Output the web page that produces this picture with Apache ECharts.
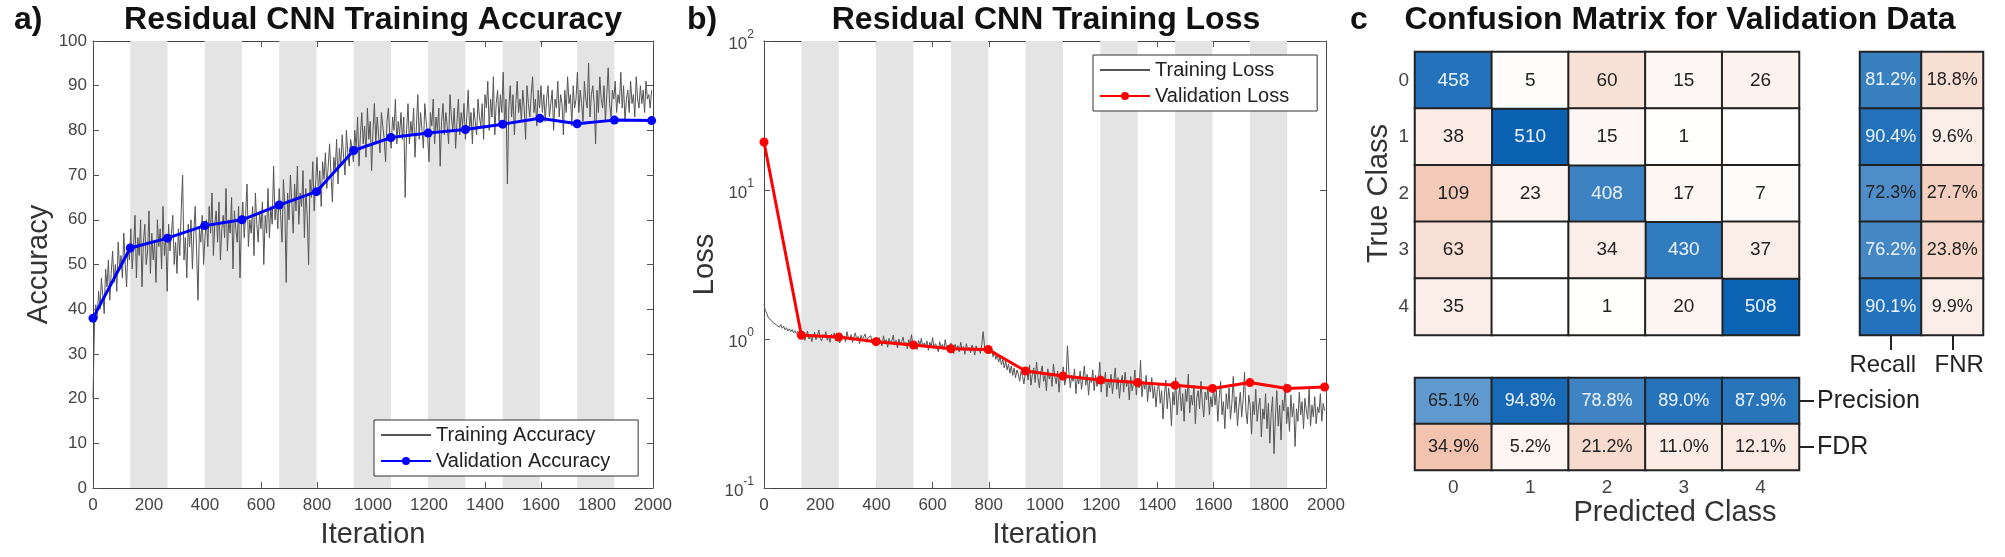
<!DOCTYPE html>
<html><head><meta charset="utf-8">
<script src="https://cdn.jsdelivr.net/npm/echarts@6/dist/echarts.min.js"></script>
<style>html,body{margin:0;padding:0;background:#fff}#c{width:2005px;height:557px}</style>
</head><body><div id="c"></div>
<script>
// ---------- data ----------
const valIter = [0,133,266,399,532,665,798,931,1064,1197,1330,1463,1596,1729,1862,1995];
const valAcc = [38,53.7,55.9,58.7,60.0,63.3,66.3,75.5,78.4,79.4,80.2,81.4,82.7,81.5,82.3,82.2];
const valLoss = [21,1.06,1.03,0.96,0.91,0.86,0.85,0.61,0.565,0.53,0.51,0.49,0.466,0.51,0.466,0.476];
const trainStep = 5; // logging interval (iterations)
const trainAcc = [
20,36,41,38,44,40,47,43,39,49,45,51,42,48,53,46,50,44,55,49,52,47,57,50,45,54,51,
58,49,54,61,47,56,52,60,45,55,
59,50,53,62,48,57,51,55,46,60,
54,58,49,63,52,56,44,59,53,57,
61,50,55,48,58,52,62,70,51,56,
47,59,54,60,49,57,63,53,42,58,
55,61,50,56,
60,54,63,57,66,52,59,62,55,64,
51,58,61,56,67,53,60,57,65,49,
62,58,55,63,47,59,64,56,61,68,
54,60,57,63,52,66,59,55,62,58,
64,50,61,57,67,56,63,59,72,60,
64,58,67,61,55,69,63,46,66,60,
70,64,57,68,62,72,59,66,63,71,
56,67,61,50,69,65,73,62,68,74,
66,71,63,73,69,75,67,72,77,70,
64,74,71,78,68,76,72,79,74,70,
80,75,72,78,76,73,
80,76,83,72,79,84,77,81,74,85,
78,82,71,80,86,77,83,79,75,84,
81,78,73,82,85,79,76,83,80,87,
77,82,79,84,
78,83,65,80,86,77,82,79,85,74,
81,88,78,84,80,76,86,82,79,73,
84,81,87,77,83,80,85,72,82,86,
79,84,81,77,88,83,80,85,76,82,
87,79,84,81,86,78,83,89,80,84,
77,85,82,79,87,83,81,86,78,88,
85,91,80,87,83,92,79,86,89,82,
88,84,93,81,87,68,85,90,83,88,
79,86,91,84,87,82,89,85,78,90,
86,83,88,92,84,87,81,89,85,90,
84,88,82,87,90,83,86,89,80,87,
85,91,83,88,86,79,89,84,92,86,
88,81,90,85,87,93,84,89,86,82,
91,87,85,95,83,88,90,86,77,89,
84,92,87,85,90,82,88,94,86,83,
89,87,91,84,88,86,93,85,90,82,
87,89,84,91,86,88,83,92,87,85,
90,86,89,84,91,87,88,85,89];
const trainLoss = [
1.7,1.55,1.48,1.4,1.44,1.33,1.37,1.28,1.31,1.24,1.27,1.2,1.25,1.18,1.22,1.15,1.19,1.13,1.17,1.12,1.16,1.1,1.14,1.09,1.13,1.08,1.11,
1.02,1.1,0.98,1.06,1.13,1.0,1.08,0.96,1.04,1.11,
0.99,1.05,1.15,1.01,0.97,1.07,1.03,1.12,0.98,1.04,
0.95,1.08,1.01,1.1,0.97,1.03,1.06,0.94,1.09,1.0,
1.05,0.96,1.12,1.02,0.98,1.07,0.95,1.03,1.1,0.99,
1.04,0.93,1.06,1.0,0.97,1.08,0.95,1.02,0.99,1.05,
0.94,1.01,0.97,1.03,
0.92,1.02,0.96,0.9,1.05,0.95,0.99,0.88,1.01,0.94,
0.97,1.06,0.91,0.98,0.87,1.0,0.93,0.96,1.03,0.9,
0.95,0.86,0.99,0.92,1.07,0.89,0.96,0.93,0.85,0.98,
0.91,1.01,0.88,0.94,0.9,0.97,0.84,0.95,0.89,1.02,
0.87,0.93,0.9,0.82,0.96,0.88,0.92,0.85,0.99,0.86,
0.91,0.83,0.94,0.88,0.8,0.92,0.86,0.9,0.82,0.95,
0.85,0.89,0.79,0.93,0.84,0.88,0.81,0.91,0.86,0.78,
0.9,0.83,0.87,0.8,0.92,1.12,0.88,0.82,0.86,0.84,
0.8,0.86,0.76,0.82,0.73,0.79,0.7,0.76,0.67,0.73,
0.64,0.71,0.62,0.68,0.59,0.66,0.57,0.64,0.55,0.62,
0.58,0.52,0.61,0.56,0.5,0.59,
0.62,0.53,0.67,0.49,0.58,0.64,0.51,0.7,0.55,0.47,
0.6,0.66,0.52,0.57,0.45,0.63,0.54,0.59,0.48,0.68,
0.56,0.5,0.61,0.44,0.58,0.53,0.65,0.49,0.55,0.9,
0.6,0.47,0.57,0.52,0.63,0.43,0.56,0.5,0.61,0.46,
0.54,0.66,0.49,0.58,0.42,0.55,0.51,0.62,0.45,0.57,
0.48,0.53,0.7,0.44,0.56,0.5,0.6,0.41,0.54,0.47,
0.58,0.43,0.52,0.64,0.46,0.55,0.4,0.51,0.57,0.44,
0.6,0.48,0.53,0.39,0.56,0.45,0.5,0.62,0.42,0.54,
0.47,0.72,0.41,0.52,0.46,0.57,0.38,0.5,0.44,0.55,
0.4,0.48,0.35,0.46,
0.5,0.37,0.45,0.29,0.42,0.53,0.34,0.47,0.39,0.26,
0.44,0.36,0.55,0.31,0.41,0.48,0.33,0.43,0.28,0.46,
0.38,0.58,0.32,0.42,0.36,0.49,0.27,0.4,0.45,0.34,
0.52,0.37,0.3,0.44,0.39,0.47,0.31,0.41,0.35,0.48,
0.36,0.45,0.28,0.4,0.52,0.31,0.38,0.25,0.43,0.34,
0.47,0.29,0.37,0.56,0.32,0.41,0.26,0.35,0.44,0.3,
0.39,0.6,0.33,0.27,0.42,0.36,0.23,0.38,0.31,0.46,
0.28,0.35,0.4,0.22,0.34,0.29,0.43,0.25,0.37,0.2,
0.32,0.41,0.17,0.3,0.45,0.26,0.36,0.21,0.39,0.33,
0.5,0.27,0.35,0.24,0.42,0.3,0.37,0.19,0.34,0.28,
0.44,0.31,0.38,0.25,0.4,0.33,0.29,0.47,0.26,0.36,
0.3,0.41,0.27,0.35,0.32,0.43,0.28,0.37,0.33];
const bandEpochs = [[133,266],[399,532],[665,798],[931,1064],[1197,1330],[1463,1596],[1729,1862]];
const classes = ['0','1','2','3','4'];
const confusion = [
  [458,5,60,15,26],
  [38,510,15,1,0],
  [109,23,408,17,7],
  [63,0,34,430,37],
  [35,0,1,20,508]
];
const recall = [81.2,90.4,72.3,76.2,90.1];
const fnr = [18.8,9.6,27.7,23.8,9.9];
const precision = [65.1,94.8,78.8,89.0,87.9];
const fdr = [34.9,5.2,21.2,11.0,12.1];
const rowSummaryNames = ['Recall','FNR'];
const colSummaryNames = ['Precision','FDR'];

// ---------- styling helpers ----------
const FF = '"Liberation Sans", Arial, Helvetica, sans-serif';
const BLUE = '#0b62b3', RED = '#d95319';
const diagMax = 510, offMax = 350, pctMax = 100;

function frameX(grid, pos, extra) {
  return Object.assign({
    type: 'value', gridIndex: grid, position: pos, min: 0, max: 2000, interval: 200,
    axisLine: {onZero: false, lineStyle: {color: '#444', width: 1}},
    axisTick: {inside: true, length: 6, lineStyle: {color: '#555'}},
    axisLabel: pos === 'bottom' ? {fontSize: 17, color: '#444', margin: 9, fontFamily: FF, formatter: v => String(v)} : {show: false},
    splitLine: {show: false}
  }, extra || {});
}
function frameYLin(grid, pos, extra) {
  return Object.assign({
    type: 'value', gridIndex: grid, position: pos, min: 0, max: 100, interval: 10,
    axisLine: {onZero: false, lineStyle: {color: '#444', width: 1}},
    axisTick: {inside: true, length: 6, lineStyle: {color: '#555'}},
    axisLabel: pos === 'left' ? {fontSize: 17, color: '#444', margin: 6, fontFamily: FF} : {show: false},
    splitLine: {show: false}
  }, extra || {});
}
function frameYLog(grid, pos, extra) {
  return Object.assign({
    type: 'log', logBase: 10, gridIndex: grid, position: pos, min: 0.1, max: 100,
    axisLine: {onZero: false, lineStyle: {color: '#444', width: 1}},
    axisTick: {inside: true, length: 6, lineStyle: {color: '#555'}},
    axisLabel: pos === 'left' ? {
      margin: 10,
      formatter: v => '{b|10}{s|' + Math.round(Math.log10(v)) + '}',
      rich: {
        b: {fontSize: 17, color: '#444', fontFamily: FF, lineHeight: 24, verticalAlign: 'bottom'},
        s: {fontSize: 12, color: '#444', fontFamily: FF, lineHeight: 12, verticalAlign: 'top'}
      }
    } : {show: false},
    splitLine: {show: false}
  }, extra || {});
}
const nameStyle = {fontSize: 29, color: '#333', fontFamily: FF};

function lbl(color) { return {color: color}; }
function cellTextColor(v, max, blue) { return (blue && v / max > 0.74) ? '#eef4ff' : '#222'; }

const diagData = [], offData = [];
confusion.forEach((row, r) => row.forEach((v, c) => {
  if (r === c) diagData.push({value: [c, r, v], label: lbl(cellTextColor(v, diagMax, true))});
  else offData.push({value: [c, r, v], label: lbl('#222')});
}));
const recallData = recall.map((v, r) => ({value: [0, r, v], label: lbl(cellTextColor(v, pctMax, true))}));
const fnrData = fnr.map((v, r) => ({value: [1, r, v], label: lbl('#222')}));
const precData = precision.map((v, c) => ({value: [c, 0, v], label: lbl(cellTextColor(v, pctMax, true))}));
const fdrData = fdr.map((v, c) => ({value: [c, 1, v], label: lbl('#222')}));

const cellBorder = {borderColor: '#222', borderWidth: 2};
const countLabel = {show: true, fontSize: 19, fontFamily: FF, formatter: p => p.value[2] === 0 ? '' : String(p.value[2])};
const pctLabel = {show: true, fontSize: 18, fontFamily: FF, formatter: p => p.value[2].toFixed(1) + '%'};
const legendCommon = {orient: 'vertical', backgroundColor: '#fff', borderColor: '#333', borderWidth: 1,
  padding: [5, 28, 5, 6], itemWidth: 50, itemHeight: 10, itemGap: 6, selectedMode: false,
  textStyle: {fontSize: 20, color: '#222', fontFamily: FF}};

const chart = echarts.init(document.getElementById('c'), null, {renderer: 'canvas'});
const T = {fontSize: 32, fontWeight: 'bold', color: '#111', fontFamily: FF};
chart.setOption({
  animation: false,
  backgroundColor: '#fff',
  textStyle: {fontFamily: FF},
  title: [
    {text: 'a)', left: 14, top: 4, padding: 0, textStyle: T},
    {text: 'Residual CNN Training Accuracy', left: 373, textAlign: 'center', top: 4, padding: 0, textStyle: T},
    {text: 'b)', left: 687, top: 4, padding: 0, textStyle: T},
    {text: 'Residual CNN Training Loss', left: 1046, textAlign: 'center', top: 4, padding: 0, textStyle: T},
    {text: 'c', left: 1350, top: 4, padding: 0, textStyle: T},
    {text: 'Confusion Matrix for Validation Data', left: 1680, textAlign: 'center', top: 4, padding: 0, textStyle: T},
    {text: 'Predicted Class', left: 1675, textAlign: 'center', top: 498, padding: 0, textStyle: {fontSize: 29, fontWeight: 'normal', color: '#333', fontFamily: FF}}
  ],
  legend: [
    Object.assign({data: [{name: 'Training Accuracy', itemStyle: {opacity: 0}}, 'Validation Accuracy'], left: 374, top: 420}, legendCommon),
    Object.assign({data: [{name: 'Training Loss', itemStyle: {opacity: 0}}, 'Validation Loss'], left: 1093, top: 55}, legendCommon)
  ],
  grid: [
    {left: 93, top: 41, width: 560, height: 447},
    {left: 764, top: 41, width: 562, height: 447},
    {left: 1415, top: 52, width: 384, height: 283},
    {left: 1860, top: 52, width: 123, height: 283},
    {left: 1415, top: 378, width: 384, height: 92}
  ],
  visualMap: [
    {show: false, seriesIndex: 4, min: 0, max: diagMax, inRange: {color: ['#ffffff', BLUE]}},
    {show: false, seriesIndex: 5, min: 0, max: offMax, inRange: {color: ['#ffffff', RED]}},
    {show: false, seriesIndex: [6, 8], min: 0, max: pctMax, inRange: {color: ['#ffffff', BLUE]}},
    {show: false, seriesIndex: [7, 9], min: 0, max: pctMax, inRange: {color: ['#ffffff', RED]}}
  ],
  xAxis: [
    frameX(0, 'bottom', {name: 'Iteration', nameLocation: 'middle', nameGap: 32, nameTextStyle: nameStyle}),
    frameX(0, 'top'),
    frameX(1, 'bottom', {name: 'Iteration', nameLocation: 'middle', nameGap: 32, nameTextStyle: nameStyle}),
    frameX(1, 'top'),
    {type: 'category', gridIndex: 2, data: classes, axisLine: {show: false}, axisTick: {show: false}, axisLabel: {show: false}, splitLine: {show: false}},
    {type: 'category', gridIndex: 3, data: rowSummaryNames, axisLine: {show: false},
     axisTick: {show: true, alignWithLabel: true, length: 15, lineStyle: {color: '#222', width: 2}},
     axisLabel: {interval: 0, margin: 18, hideOverlap: false,
       formatter: (v, i) => i === 0 ? '{l|' + v + '}' : '{r|' + v + '}',
       rich: {
         l: {fontSize: 24, color: '#222', fontFamily: FF, padding: [0, 16, 0, 0]},
         r: {fontSize: 24, color: '#222', fontFamily: FF, padding: [0, 0, 0, 14]}
       }}},
    {type: 'category', gridIndex: 4, data: classes, axisLine: {show: false}, axisTick: {show: false},
     axisLabel: {interval: 0, fontSize: 19, color: '#444', margin: 8, fontFamily: FF}}
  ],
  yAxis: [
    frameYLin(0, 'left', {name: 'Accuracy', nameLocation: 'middle', nameGap: 40, nameTextStyle: nameStyle}),
    frameYLin(0, 'right'),
    frameYLog(1, 'left', {name: 'Loss', nameLocation: 'middle', nameGap: 45, nameTextStyle: nameStyle}),
    frameYLog(1, 'right'),
    {type: 'category', gridIndex: 2, data: classes, inverse: true, axisLine: {show: false}, axisTick: {show: false},
     axisLabel: {interval: 0, fontSize: 19, color: '#444', margin: 6, fontFamily: FF},
     name: 'True Class', nameLocation: 'middle', nameGap: 22, nameTextStyle: nameStyle},
    {type: 'category', gridIndex: 3, data: classes, inverse: true, show: false},
    {type: 'category', gridIndex: 4, data: colSummaryNames, inverse: true, position: 'right', axisLine: {show: false},
     axisTick: {show: true, alignWithLabel: true, length: 15, lineStyle: {color: '#222', width: 2}},
     axisLabel: {interval: 0, fontSize: 25, color: '#222', margin: 18, fontFamily: FF}}
  ],
  series: [
    {name: 'Training Accuracy', type: 'line', xAxisIndex: 0, yAxisIndex: 0, z: 2,
     data: trainAcc.map((v, i) => [i * trainStep, v]), showSymbol: false, symbol: 'none',
     lineStyle: {color: '#555555', width: 1}, itemStyle: {color: '#555555'},
     markArea: {silent: true, itemStyle: {color: '#e4e4e4'}, data: bandEpochs.map(b => [{xAxis: b[0]}, {xAxis: b[1]}])}},
    {name: 'Validation Accuracy', type: 'line', xAxisIndex: 0, yAxisIndex: 0, z: 4,
     data: valIter.map((x, i) => [x, valAcc[i]]), symbol: 'circle', symbolSize: 9,
     lineStyle: {color: '#0000ff', width: 3}, itemStyle: {color: '#0000ff'}},
    {name: 'Training Loss', type: 'line', xAxisIndex: 2, yAxisIndex: 2, z: 2,
     data: trainLoss.map((v, i) => [i * trainStep, v]), showSymbol: false, symbol: 'none',
     lineStyle: {color: '#555555', width: 1}, itemStyle: {color: '#555555'},
     markArea: {silent: true, itemStyle: {color: '#e4e4e4'}, data: bandEpochs.map(b => [{xAxis: b[0]}, {xAxis: b[1]}])}},
    {name: 'Validation Loss', type: 'line', xAxisIndex: 2, yAxisIndex: 2, z: 4,
     data: valIter.map((x, i) => [x, valLoss[i]]), symbol: 'circle', symbolSize: 9,
     lineStyle: {color: '#ff0000', width: 3}, itemStyle: {color: '#ff0000'}},
    {name: 'diag', type: 'heatmap', xAxisIndex: 4, yAxisIndex: 4, data: diagData, itemStyle: cellBorder, label: countLabel},
    {name: 'off', type: 'heatmap', xAxisIndex: 4, yAxisIndex: 4, data: offData, itemStyle: cellBorder, label: countLabel},
    {name: 'recall', type: 'heatmap', xAxisIndex: 5, yAxisIndex: 5, data: recallData, itemStyle: cellBorder, label: pctLabel},
    {name: 'fnr', type: 'heatmap', xAxisIndex: 5, yAxisIndex: 5, data: fnrData, itemStyle: cellBorder, label: pctLabel},
    {name: 'precision', type: 'heatmap', xAxisIndex: 6, yAxisIndex: 6, data: precData, itemStyle: cellBorder, label: pctLabel},
    {name: 'fdr', type: 'heatmap', xAxisIndex: 6, yAxisIndex: 6, data: fdrData, itemStyle: cellBorder, label: pctLabel}
  ]
});
</script></body></html>
